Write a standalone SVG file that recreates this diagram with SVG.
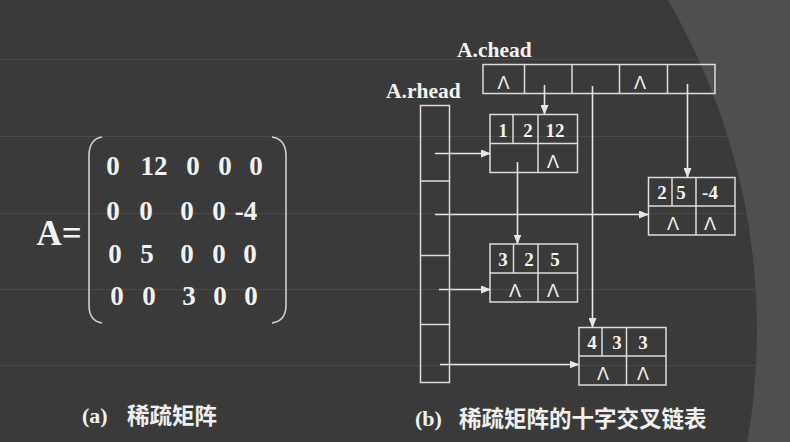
<svg xmlns="http://www.w3.org/2000/svg" width="790" height="442" viewBox="0 0 790 442">
<style>
.bg{fill:#4f4f4f}
.dark{fill:#3a3a3a}
.rule{stroke:#4a4a4a;stroke-width:1}
.box{fill:none;stroke:#dcdcdc;stroke-width:1.5}
.ln{fill:none;stroke:#e6e6e6;stroke-width:1.6}
.num{font-family:"Liberation Serif","Times New Roman",serif;font-weight:bold;fill:#f2f2f2;text-anchor:middle}
.lam{font-family:"Liberation Sans",Arial,sans-serif;fill:#f2f2f2;text-anchor:middle;font-size:18px}
.lbl{font-family:"Liberation Serif","Times New Roman",serif;font-weight:bold;fill:#f2f2f2;font-size:21.5px}
.cap{font-family:"Liberation Serif","Noto Sans CJK SC",serif;font-weight:bold;fill:#f0f0f0;font-size:22px}
.cjk{font-family:"Noto Sans CJK SC",sans-serif;font-weight:bold;fill:#f0f0f0;font-size:22.5px}
.par{fill:none;stroke:#cfcfcf;stroke-width:1.6}
</style>
<defs>
<clipPath id="clipDark"><circle cx="101" cy="330" r="656"/></clipPath>
<marker id="arr" markerUnits="userSpaceOnUse" markerWidth="10" markerHeight="8" refX="9" refY="4" orient="auto">
<path d="M0,0 L10,4 L0,8 z" fill="#e6e6e6"/>
</marker>
</defs>
<rect class="bg" x="0" y="0" width="790" height="442"/>
<circle class="dark" cx="101" cy="330" r="656"/>
<g clip-path="url(#clipDark)">
<line class="rule" x1="0" y1="59.5" x2="790" y2="59.5"/>
<line class="rule" x1="0" y1="136.5" x2="790" y2="136.5"/>
<line class="rule" x1="0" y1="213.5" x2="790" y2="213.5"/>
<line class="rule" x1="0" y1="289.5" x2="790" y2="289.5"/>
<line class="rule" x1="0" y1="365.5" x2="790" y2="365.5"/>
</g>

<g id="matrix">
<text class="num" x="59" y="245" font-size="35">A=</text>
<path class="par" d="M102,137 Q89,139 89,156 L89,305 Q89,321 102,323"/>
<path class="par" d="M272,137 Q286,139 286,156 L286,305 Q286,321 272,323"/>
<g font-size="27">
<text class="num" x="113" y="175">0</text><text class="num" x="154" y="175">12</text><text class="num" x="193" y="175">0</text><text class="num" x="225" y="175">0</text><text class="num" x="256" y="175">0</text>
<text class="num" x="113" y="220">0</text><text class="num" x="146" y="220">0</text><text class="num" x="187" y="220">0</text><text class="num" x="219" y="220">0</text><text class="num" x="246" y="220">-4</text>
<text class="num" x="115" y="263">0</text><text class="num" x="147" y="263">5</text><text class="num" x="187" y="263">0</text><text class="num" x="219" y="263">0</text><text class="num" x="250" y="263">0</text>
<text class="num" x="117" y="305">0</text><text class="num" x="149" y="305">0</text><text class="num" x="189" y="305">3</text><text class="num" x="220" y="305">0</text><text class="num" x="251" y="305">0</text>
</g>
</g>

<g id="chead">
<text class="lbl" x="457" y="57">A.chead</text>
<rect class="box" x="483" y="64.5" width="232" height="29"/>
<line class="box" x1="524.5" y1="64.5" x2="524.5" y2="93.5"/>
<line class="box" x1="572" y1="64.5" x2="572" y2="93.5"/>
<line class="box" x1="619.5" y1="64.5" x2="619.5" y2="93.5"/>
<line class="box" x1="667.5" y1="64.5" x2="667.5" y2="93.5"/>
<text class="lam" x="503.5" y="89">Λ</text>
<text class="lam" x="640" y="89">Λ</text>
</g>

<g id="rhead">
<text class="lbl" x="386" y="98">A.rhead</text>
<rect class="box" x="420.5" y="105.5" width="29" height="277"/>
<line class="box" x1="420.5" y1="181" x2="449.5" y2="181"/>
<line class="box" x1="420.5" y1="255.5" x2="449.5" y2="255.5"/>
<line class="box" x1="420.5" y1="324.5" x2="449.5" y2="324.5"/>
</g>

<g id="node-1-2-12">
<rect class="box" x="490" y="114.5" width="87.5" height="58"/>
<line class="box" x1="490" y1="143.5" x2="577.5" y2="143.5"/>
<line class="box" x1="513" y1="114.5" x2="513" y2="143.5"/>
<line class="box" x1="538" y1="114.5" x2="538" y2="172.5"/>
<text class="num" x="503" y="137" font-size="19">1</text>
<text class="num" x="528" y="137" font-size="19">2</text>
<text class="num" x="555" y="137" font-size="19">12</text>
<text class="lam" x="553" y="168">Λ</text>
</g>

<g id="node-2-5-m4">
<rect class="box" x="648.5" y="177.5" width="86.5" height="57.5"/>
<line class="box" x1="648.5" y1="206" x2="735" y2="206"/>
<line class="box" x1="672" y1="177.5" x2="672" y2="206"/>
<line class="box" x1="696" y1="177.5" x2="696" y2="235"/>
<text class="num" x="662" y="199" font-size="19">2</text>
<text class="num" x="681" y="199" font-size="19">5</text>
<text class="num" x="710" y="199" font-size="19">-4</text>
<text class="lam" x="673" y="230">Λ</text>
<text class="lam" x="710" y="230">Λ</text>
</g>

<g id="node-3-2-5">
<rect class="box" x="490" y="244" width="87.5" height="58"/>
<line class="box" x1="490" y1="273" x2="577.5" y2="273"/>
<line class="box" x1="513.5" y1="244" x2="513.5" y2="273"/>
<line class="box" x1="538" y1="244" x2="538" y2="302"/>
<text class="num" x="503" y="266" font-size="19">3</text>
<text class="num" x="529" y="266" font-size="19">2</text>
<text class="num" x="555" y="266" font-size="19">5</text>
<text class="lam" x="515" y="297">Λ</text>
<text class="lam" x="553" y="297">Λ</text>
</g>

<g id="node-4-3-3">
<rect class="box" x="579" y="327.5" width="87" height="57.5"/>
<line class="box" x1="579" y1="356" x2="666" y2="356"/>
<line class="box" x1="602" y1="327.5" x2="602" y2="356"/>
<line class="box" x1="626.5" y1="327.5" x2="626.5" y2="385"/>
<text class="num" x="592" y="349" font-size="19">4</text>
<text class="num" x="617" y="349" font-size="19">3</text>
<text class="num" x="643" y="349" font-size="19">3</text>
<text class="lam" x="603" y="380">Λ</text>
<text class="lam" x="643" y="380">Λ</text>
</g>

<g id="connectors">
<line class="ln" x1="544.5" y1="85" x2="544.5" y2="114" marker-end="url(#arr)"/>
<line class="ln" x1="592.5" y1="86" x2="592.5" y2="327" marker-end="url(#arr)"/>
<line class="ln" x1="687.5" y1="84" x2="687.5" y2="177" marker-end="url(#arr)"/>
<line class="ln" x1="517.5" y1="162" x2="517.5" y2="243.5" marker-end="url(#arr)"/>
<line class="ln" x1="435" y1="153.5" x2="490" y2="153.5" marker-end="url(#arr)"/>
<line class="ln" x1="435" y1="214.5" x2="648" y2="214.5" marker-end="url(#arr)"/>
<line class="ln" x1="439" y1="289.5" x2="490" y2="289.5" marker-end="url(#arr)"/>
<line class="ln" x1="440" y1="364.5" x2="578.5" y2="364.5" marker-end="url(#arr)"/>
</g>

<g id="captions">
<text class="cap" x="82" y="423">(a)</text>
<text class="cjk" x="127" y="424" font-size="22">稀疏矩阵</text>
<text class="cap" x="415" y="426">(b)</text>
<text class="cjk" x="459" y="427">稀疏矩阵的十字交叉链表</text>
</g>
</svg>
